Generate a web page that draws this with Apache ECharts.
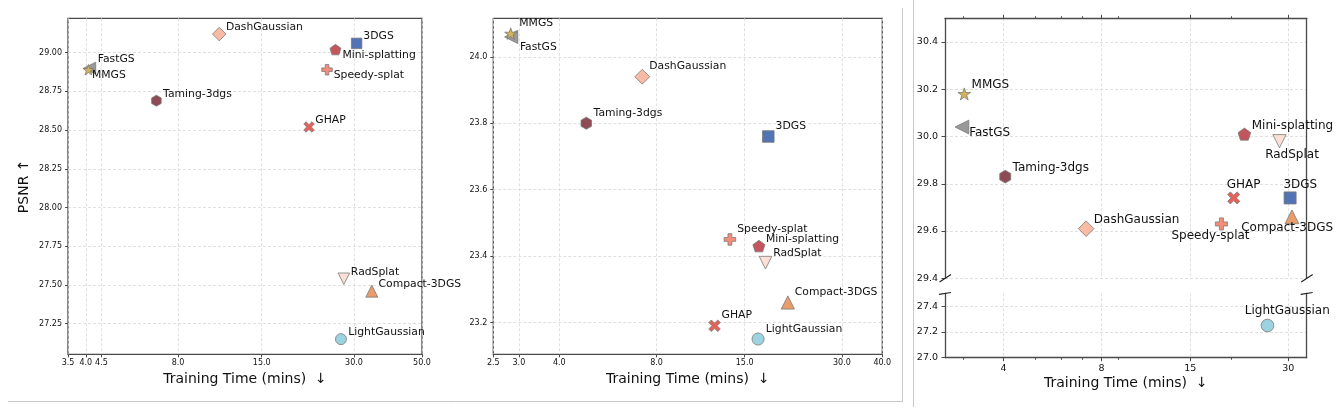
<!DOCTYPE html>
<html>
<head>
<meta charset="utf-8">
<script src="https://cdn.jsdelivr.net/npm/echarts@6/dist/echarts.min.js"></script>
<style>
  html, body { margin: 0; padding: 0; background: #fff; }
  #chart { width: 1342px; height: 415px; }
</style>
</head>
<body>
<div id="chart"></div>
<script>
// ---------------- DATA ----------------
const methods = ['3DGS', 'Mini-splatting', 'Speedy-splat', 'GHAP', 'DashGaussian', 'Taming-3dgs',
                 'FastGS', 'MMGS', 'RadSplat', 'Compact-3DGS', 'LightGaussian'];

// Panel 1
const p1Time = [30.6, 26.1, 24.5, 21.4, 10.9, 6.8, 4.12, 4.08, 27.8, 34.3, 27.2];
const p1Psnr = [29.06, 29.02, 28.89, 28.52, 29.12, 28.69, 28.90, 28.89, 27.54, 27.46, 27.15];
// Panel 2
const p2Time = [17.75, 16.6, 13.5, 12.1, 7.23, 4.85, 2.84, 2.83, 17.4, 20.4, 16.5];
const p2Psnr = [23.76, 23.43, 23.45, 23.19, 23.94, 23.80, 24.06, 24.07, 23.38, 23.26, 23.15];
// Panel 3
const p3Time = [30.4, 22.0, 18.7, 20.4, 7.18, 4.05, 2.98, 3.03, 28.2, 30.8, 25.9];
const p3Psnr = [29.74, 30.01, 29.63, 29.74, 29.61, 29.83, 30.04, 30.18, 29.98, 29.66, 27.25];

// Tick values
const p1XTicks = [3.5, 4.0, 4.5, 8.0, 15.0, 30.0, 50.0];
const p1YTicks = [27.25, 27.5, 27.75, 28.0, 28.25, 28.5, 28.75, 29.0];
const p2XTicks = [2.5, 3.0, 4.0, 8.0, 15.0, 30.0, 40.0];
const p2YTicks = [23.2, 23.4, 23.6, 23.8, 24.0];
const p3XTicks = [4, 8, 15, 30];
const p3XMinor = [3, 5, 6, 7, 9, 20];
const p3YUpperTicks = [29.4, 29.6, 29.8, 30.0, 30.2, 30.4];
const p3YLowerTicks = [27.0, 27.2, 27.4];

// ---------------- STYLE ----------------
const FONT = 'DejaVu Sans';
const TXT = '#111111';
const SPINE = '#4a4a4a';
const GRIDC = '#d8d8d8';

const P = {
  pent: 'path://M50,0 L97.55,34.55 L79.39,90.45 L20.61,90.45 L2.45,34.55 Z',
  hex: 'path://M50,0 L93.3,25 L93.3,75 L50,100 L6.7,75 L6.7,25 Z',
  star: 'path://M50,0 L61.23,34.55 L97.55,34.55 L68.17,55.9 L79.39,90.45 L50,69.1 L20.61,90.45 L31.83,55.9 L2.45,34.55 L38.77,34.55 Z',
  plus: 'path://M33.3,0 L66.7,0 L66.7,33.3 L100,33.3 L100,66.7 L66.7,66.7 L66.7,100 L33.3,100 L33.3,66.7 L0,66.7 L0,33.3 L33.3,33.3 Z',
  x: 'path://M22,0 L50,28 L78,0 L100,22 L72,50 L100,78 L78,100 L50,72 L22,100 L0,78 L28,50 L0,22 Z',
  left: 'path://M0,50 L100,0 L100,100 Z',
  down: 'path://M0,0 L100,0 L50,100 Z',
  up: 'path://M50,0 L100,100 L0,100 Z'
};
const mStyle = {
  '3DGS':          { symbol: 'rect',    size: 10.5, color: '#5274b5' },
  'Mini-splatting':{ symbol: P.pent,    size: 11,   color: '#c4555c' },
  'Speedy-splat':  { symbol: P.plus,    size: 10.5, color: '#f48c7a' },
  'GHAP':          { symbol: P.x,       size: 10.5, color: '#e5625b' },
  'DashGaussian':  { symbol: 'diamond', size: 13.5, color: '#f9bba5' },
  'Taming-3dgs':   { symbol: P.hex,     size: 11,   color: '#8f4b55' },
  'FastGS':        { symbol: P.left,    size: 12,   color: '#999999' },
  'MMGS':          { symbol: P.star,    size: 11,   color: '#d2b358' },
  'RadSplat':      { symbol: P.down,    size: 11.5, color: '#fde0d5' },
  'Compact-3DGS':  { symbol: P.up,      size: 12,   color: '#e89d6b' },
  'LightGaussian': { symbol: 'circle',  size: 11,   color: '#9bd3e0' }
};
// label offsets [dx, dy] from marker centre (left-aligned text, middle)
const p1Off = [[6.7,-6.7],[7,6],[6.7,5.7],[6.3,-7.3],[6.7,-7.3],[6.7,-6.7],[8,-9],[3.5,5],[7,-6.7],[6.7,-7.3],[7.3,-6.7]];
const p2Off = [[7.3,-10],[7,-7.3],[7.3,-10],[7,-10.3],[7,-10.7],[7.3,-10.3],[8.7,10.6],[8.6,-10],[7.7,-9],[7,-10.7],[7.7,-10]];
const p3Off = [[-6.7,-13.3],[7.3,-8.7],[-50,11.7],[-7,-13.3],[7.7,-8.7],[7.3,-8.7],[7.3,5.7],[7.3,-9],[-14.3,14],[-50.7,10.7],[-22.7,-14.7]];

function buildData(times, psnrs, offs, scale, labelSize, filter) {
  const out = [];
  methods.forEach((m, i) => {
    if (filter && !filter(psnrs[i])) return;
    const s = mStyle[m];
    out.push({
      name: m,
      value: [times[i], psnrs[i]],
      symbol: s.symbol,
      symbolSize: s.size * scale,
      symbolKeepAspect: true,
      itemStyle: { color: s.color, borderColor: '#7a7a7a', borderWidth: 0.8, opacity: 1 },
      label: {
        show: true, formatter: m, position: 'inside', align: 'left', verticalAlign: 'middle',
        offset: offs[i], color: TXT, fontFamily: FONT, fontSize: labelSize,
        textBorderWidth: 0, opacity: 1
      }
    });
  });
  return out;
}

const dashed = { color: GRIDC, type: [3, 2], width: 0.8 };
const tickStyle = { color: SPINE, width: 1 };

function xLog(grid, min, max, ticks, fmt, opts) {
  return Object.assign({
    gridIndex: grid, type: 'log', logBase: 10, min: min, max: max,
    axisLine: { show: false, onZero: false },
    axisTick: { show: true, customValues: ticks, length: 3, lineStyle: tickStyle },
    axisLabel: { show: true, customValues: ticks, formatter: fmt, fontFamily: FONT, fontSize: 8, color: TXT, margin: 5, hideOverlap: false },
    splitLine: { show: true, lineStyle: dashed },
    minorTick: { show: false }, minorSplitLine: { show: false }
  }, opts || {});
}
function yVal(grid, min, max, ticks, fmt, opts) {
  return Object.assign({
    gridIndex: grid, type: 'value', min: min, max: max, scale: true,
    axisLine: { show: false, onZero: false },
    axisTick: { show: true, customValues: ticks, length: 3, lineStyle: tickStyle },
    axisLabel: { show: true, customValues: ticks, formatter: fmt, fontFamily: FONT, fontSize: 8, color: TXT, margin: 6, hideOverlap: false },
    splitLine: { show: true, lineStyle: dashed }
  }, opts || {});
}
const xName = 'Training Time (mins)  ↓';
const nameStyle = { fontFamily: FONT, fontSize: 14, color: TXT };
const f1 = v => Number(v).toFixed(1);
const f2 = v => Number(v).toFixed(2);
const f0 = v => String(Math.round(v));

const P3L = 945, P3W = 361.7, P3R = P3L + P3W;
const UpB = 278.3, LoT = 293.3;
const spineLine = { show: true, onZero: false, lineStyle: { color: SPINE, width: 1.3 } };

const option = {
  backgroundColor: '#ffffff',
  animation: false,
  grid: [
    { left: 68, top: 18.3, width: 354, height: 336, show: true, borderColor: SPINE, borderWidth: 1.3, outerBoundsMode: 'none' },
    { left: 493.3, top: 18.3, width: 389, height: 336, show: true, borderColor: SPINE, borderWidth: 1.3, outerBoundsMode: 'none' },
    { left: P3L, top: 18.3, width: P3W, height: UpB - 18.3, outerBoundsMode: 'none' },
    { left: P3L, top: LoT, width: P3W, height: 357.7 - LoT, outerBoundsMode: 'none' }
  ],
  xAxis: [
    xLog(0, 3.5, 50, p1XTicks, f1, { name: xName, nameLocation: 'middle', nameGap: 17, nameTextStyle: nameStyle }),
    xLog(1, 2.5, 40, p2XTicks, f1, { name: xName, nameLocation: 'middle', nameGap: 17, nameTextStyle: nameStyle }),
    // panel 3 upper: top spine with major ticks
    xLog(2, 2.644, 34.19, p3XTicks, f0, {
      position: 'top',
      axisLine: spineLine,
      axisTick: { show: true, customValues: p3XTicks, length: 3.5, lineStyle: tickStyle },
      axisLabel: { show: false }
    }),
    // panel 3 upper: minor ticks
    xLog(2, 2.644, 34.19, p3XMinor, f0, {
      position: 'top',
      axisTick: { show: true, customValues: p3XMinor, length: 2, lineStyle: tickStyle },
      axisLabel: { show: false }, splitLine: { show: false }
    }),
    // panel 3 lower: bottom spine, labels
    xLog(3, 2.644, 34.19, p3XTicks, f0, {
      position: 'bottom',
      axisLine: spineLine,
      axisTick: { show: true, customValues: p3XTicks, length: 3.5, lineStyle: tickStyle },
      axisLabel: { show: true, customValues: p3XTicks, formatter: f0, fontFamily: FONT, fontSize: 9.5, color: TXT, margin: 6 },
      name: xName, nameLocation: 'middle', nameGap: 19, nameTextStyle: nameStyle
    }),
    xLog(3, 2.644, 34.19, p3XMinor, f0, {
      position: 'bottom',
      axisTick: { show: true, customValues: p3XMinor, length: 2, lineStyle: tickStyle },
      axisLabel: { show: false }, splitLine: { show: false }
    })
  ],
  yAxis: [
    yVal(0, 27.052, 29.222, p1YTicks, f2, { name: 'PSNR ↑', nameLocation: 'middle', nameGap: 37, nameTextStyle: nameStyle }),
    yVal(1, 23.104, 24.116, p2YTicks, f1),
    yVal(2, 29.4, 30.5, p3YUpperTicks, f1, {
      axisLine: spineLine,
      axisTick: { show: true, customValues: p3YUpperTicks, length: 3.5, lineStyle: tickStyle },
      axisLabel: { show: true, customValues: p3YUpperTicks, formatter: f1, fontFamily: FONT, fontSize: 9.5, color: TXT, margin: 7 }
    }),
    yVal(2, 29.4, 30.5, p3YUpperTicks, f1, {
      position: 'right',
      axisLine: spineLine,
      axisTick: { show: false }, axisLabel: { show: false }, splitLine: { show: false }
    }),
    yVal(3, 27.0, 27.5, p3YLowerTicks, f1, {
      axisLine: spineLine,
      axisTick: { show: true, customValues: p3YLowerTicks, length: 3.5, lineStyle: tickStyle },
      axisLabel: { show: true, customValues: p3YLowerTicks, formatter: f1, fontFamily: FONT, fontSize: 9.5, color: TXT, margin: 7 }
    }),
    yVal(3, 27.0, 27.5, p3YLowerTicks, f1, {
      position: 'right',
      axisLine: spineLine,
      axisTick: { show: false }, axisLabel: { show: false }, splitLine: { show: false }
    })
  ],
  series: [
    { type: 'scatter', xAxisIndex: 0, yAxisIndex: 0, data: buildData(p1Time, p1Psnr, p1Off, 1.0, 10.8), z: 5 },
    { type: 'scatter', xAxisIndex: 1, yAxisIndex: 1, data: buildData(p2Time, p2Psnr, p2Off, 1.1, 10.8), z: 5 },
    { type: 'scatter', xAxisIndex: 2, yAxisIndex: 2, data: buildData(p3Time, p3Psnr, p3Off, 1.15, 12, v => v >= 29.4), z: 5 },
    { type: 'scatter', xAxisIndex: 4, yAxisIndex: 4, data: buildData(p3Time, p3Psnr, p3Off, 1.15, 12, v => v < 27.5), z: 5 }
  ],
  graphic: [
    // figure frame lines
    { type: 'line', shape: { x1: 8, y1: 401.5, x2: 903, y2: 401.5 }, style: { stroke: '#c8c8c8', lineWidth: 1 } },
    { type: 'line', shape: { x1: 902.5, y1: 8, x2: 902.5, y2: 401.5 }, style: { stroke: '#c8c8c8', lineWidth: 1 } },
    { type: 'line', shape: { x1: 913.5, y1: 0, x2: 913.5, y2: 407 }, style: { stroke: '#c8c8c8', lineWidth: 1 } },
    // axis break marks
    { type: 'line', shape: { x1: P3L - 5.5, y1: UpB + 3.7, x2: P3L + 6, y2: UpB - 3.7 }, style: { stroke: '#222', lineWidth: 1.2 }, z: 20 },
    { type: 'line', shape: { x1: P3R - 5.5, y1: UpB + 3.7, x2: P3R + 6, y2: UpB - 3.7 }, style: { stroke: '#222', lineWidth: 1.2 }, z: 20 },
    { type: 'line', shape: { x1: P3L - 6, y1: LoT + 1, x2: P3L + 6, y2: LoT - 0.8 }, style: { stroke: '#222', lineWidth: 1.2 }, z: 20 },
    { type: 'line', shape: { x1: P3R - 6, y1: LoT + 1, x2: P3R + 6, y2: LoT - 0.8 }, style: { stroke: '#222', lineWidth: 1.2 }, z: 20 }
  ]
};

const chart = echarts.init(document.getElementById('chart'), null, { renderer: 'canvas' });
chart.setOption(option);
</script>
</body>
</html>
